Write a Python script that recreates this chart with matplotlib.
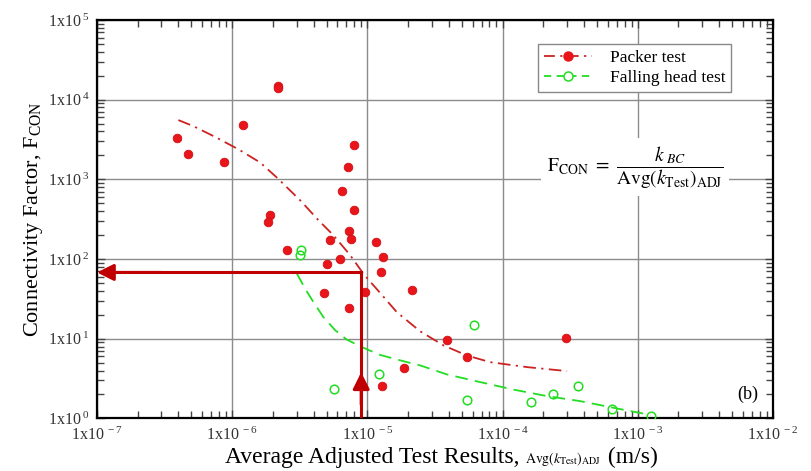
import math
import matplotlib
matplotlib.use('Agg')
import matplotlib.pyplot as plt
from matplotlib.ticker import LogLocator, FuncFormatter, NullFormatter

plt.rcParams['font.family'] = ['Liberation Serif', 'DejaVu Serif']
plt.rcParams['mathtext.fontset'] = 'stix'

# packer test points (k in m/s, F_con)
packer_k = [3.9e-7, 4.7e-7, 8.7e-7, 1.2e-6, 2.19e-6, 2.19e-6, 1.9e-6, 1.85e-6,
            2.54e-6, 7.9e-6, 7.2e-6, 6.5e-6, 7.9e-6, 7.3e-6, 7.6e-6, 5.3e-6,
            5.0e-6, 6.3e-6, 1.16e-5, 1.30e-5, 1.26e-5, 4.8e-6, 9.6e-6, 7.3e-6,
            2.15e-5, 1.86e-5, 1.29e-5, 3.85e-5, 5.5e-5, 2.94e-4]
packer_f = [3300, 2075, 1645, 4790, 14800, 14000, 355, 292,
            131, 2740, 1450, 718, 414, 223, 181, 176,
            86, 99, 166, 106, 69, 38, 38.6, 24.3,
            41, 4.25, 2.55, 9.6, 5.9, 10.3]

# falling head test points
falling_k = [3.24e-6, 3.2e-6, 5.7e-6, 1.22e-5, 6.1e-5, 5.5e-5, 1.62e-4,
             2.36e-4, 3.61e-4, 6.45e-4, 1.25e-3]
falling_f = [129, 112, 2.33, 3.6, 15, 1.72, 1.62, 2.0, 2.58, 1.31, 1.06]

# fitted trend curves
packer_fit_k = [4.0e-7, 5.16e-7, 7.46e-7, 1.11e-6, 1.61e-6, 2.14e-6, 3.18e-6,
                4.35e-6, 5.61e-6, 7.46e-6, 9.47e-6, 1.24e-5, 1.65e-5, 2.46e-5,
                3.66e-5, 5.44e-5, 8.1e-5, 1.52e-4, 3.0e-4]
packer_fit_f = [5550, 4660, 3420, 2390, 1630, 1055, 548,
                307, 199, 112, 63.5, 37.8, 21.6, 12.4,
                8.26, 6.18, 5.09, 4.41, 3.93]
falling_fit_k = [3.01e-6, 3.46e-6, 3.99e-6, 4.73e-6, 5.78e-6, 7.05e-6, 9.1e-6,
                 1.24e-5, 1.75e-5, 2.46e-5, 3.88e-5, 6.84e-5, 1.21e-4,
                 2.13e-4, 3.76e-4, 8.34e-4, 1.24e-3]
falling_fit_f = [65.8, 42.6, 28.9, 18.7, 12.8, 9.75, 7.87,
                 6.28, 5.36, 4.63, 3.57, 2.86, 2.30,
                 1.91, 1.65, 1.26, 1.11]

# read-off example (arrows)
read_k = 9.0e-6
read_f = 68
arrow_tip_f = 3.8

red = '#e8161b'
red_line = '#cc2222'
green = '#22dd22'
arrow_red = '#c00000'

fig = plt.figure(figsize=(8.11, 4.71), dpi=100)
ax = fig.add_axes([0.1196, 0.1115, 0.8335, 0.846])
ax.set_xscale('log')
ax.set_yscale('log')
ax.set_xlim(1e-7, 1e-2)
ax.set_ylim(1, 1e5)

ax.grid(True, which='major', color='#8c8c8c', lw=1.0, zorder=0)
ax.set_axisbelow(True)

ax.plot(packer_fit_k, packer_fit_f, color=red_line, lw=1.3,
        dashes=(7, 3, 1.2, 3), zorder=2)
ax.plot(falling_fit_k, falling_fit_f, color=green, lw=1.3,
        dashes=(7, 4), zorder=2)
ax.plot(packer_k, packer_f, 'o', ms=6.2, color=red, mec='#d41014', mew=0.6,
        zorder=3)
ax.plot(falling_k, falling_f, 'o', ms=6.2, mfc='none', mec=green, mew=1.1,
        zorder=3)

# legend proxies
ax.plot([], [], color=red_line, lw=1.3, dashes=(6, 3, 1.2, 3), marker='o',
        ms=6.5, mfc=red, mec=red, label='Packer test')
ax.plot([], [], color=green, lw=1.3, dashes=(4, 3), marker='o',
        ms=6.5, mfc='white', mec=green, mew=1.1, label='Falling head test')
leg = ax.legend(loc='upper left', bbox_to_anchor=(0.652, 0.94), numpoints=1,
                fontsize=12.5, handlelength=2.8, fancybox=False, framealpha=1,
                edgecolor='#888888', borderpad=0.35, labelspacing=0.2,
                handletextpad=1.0, borderaxespad=0)
leg.get_frame().set_linewidth(1.0)

# arrows
ax.plot([read_k, read_k, 1.25e-7], [1, read_f, read_f], color=arrow_red,
        lw=2.2, solid_joinstyle='miter', zorder=4)
ax.annotate('', xy=(1e-7, read_f), xytext=(3e-7, read_f),
            arrowprops=dict(arrowstyle='-|>', color=arrow_red, lw=2.2,
                            mutation_scale=25, shrinkA=0, shrinkB=0),
            zorder=4)
ax.annotate('', xy=(read_k, arrow_tip_f), xytext=(read_k, 1.5),
            arrowprops=dict(arrowstyle='-|>', color=arrow_red, lw=2.2,
                            mutation_scale=25, shrinkA=0, shrinkB=0),
            zorder=4)

ax.text(0.796, 0.63,
        r'$\mathrm{F}_{\mathrm{CON}}\ =\ \dfrac{k_{\ BC}}'
        r'{\mathrm{Avg}\left(k_{\mathrm{Test}}\right)_{\mathrm{ADJ}}}$',
        transform=ax.transAxes, ha='center', va='center', fontsize=14,
        bbox=dict(facecolor='white', edgecolor='none', pad=4), zorder=5)
ax.text(0.962, 0.06, '(b)', transform=ax.transAxes, ha='center',
        va='center', fontsize=13)


def sci_fmt(v, pos):
    e = int(round(math.log10(v)))
    return r'$\mathregular{1x10^{\ %d}}$' % e


for axis in (ax.xaxis, ax.yaxis):
    axis.set_major_locator(LogLocator(base=10, numticks=10))
    axis.set_minor_locator(LogLocator(base=10, subs=range(2, 10), numticks=10))
    axis.set_major_formatter(FuncFormatter(sci_fmt))
    axis.set_minor_formatter(NullFormatter())

ax.tick_params(which='both', direction='in', top=True, right=True,
               labelsize=11.5, color='#444444', labelcolor='#333333')
ax.tick_params(which='major', length=6, width=1.0)
ax.tick_params(which='minor', length=5, width=1.0)
ax.tick_params(axis='x', which='major', pad=6)
ax.tick_params(axis='y', which='major', pad=5)
for s in ax.spines.values():
    s.set_linewidth(1.6)

ax.set_ylabel(r'Connectivity Factor, F$_{\mathregular{CON}}$', fontsize=16,
              labelpad=2)

# x label built from pieces with different sizes
t1 = fig.text(225 / 811, 1 - 463 / 471, 'Average Adjusted Test Results, ',
              fontsize=17, ha='left', va='baseline')
t2 = ax.annotate(r'$\mathrm{Avg}\left(k_{\mathrm{Test}}\right)_{\mathrm{ADJ}}$',
                 xy=(1, 0), xycoords=t1, fontsize=10, ha='left',
                 va='bottom', annotation_clip=False)
ax.annotate(' (m/s)', xy=(1, 0), xycoords=t2, xytext=(0, 0),
            textcoords='offset points', fontsize=17, ha='left', va='bottom',
            annotation_clip=False)

fig.savefig('out.png', dpi=100)
